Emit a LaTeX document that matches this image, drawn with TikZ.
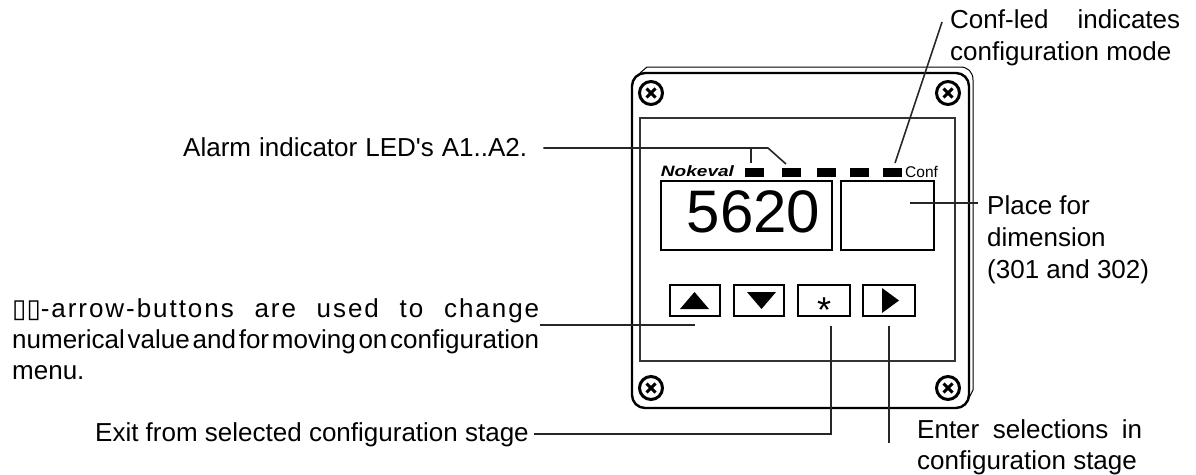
\documentclass[tikz,border=0pt]{standalone}
\usepackage{graphicx}
\usepackage{fontspec}
\setmainfont{Liberation Sans}[Ligatures=TeXOff]
\newfontfamily\symfont{DejaVu Sans}
\usetikzlibrary{positioning, calc}
\newcommand{\fitline}[3][0]{\makebox[#2][s]{\addfontfeature{LetterSpace=#1}\spaceskip=2.8pt plus 40pt minus 1pt #3}}
\tikzset{
    lab/.style={inner sep=0pt, anchor=base west, font=\fontsize{26}{26}\selectfont},
    leader/.style={line width=1.6pt, black!85},
    btnbox/.style={draw, line width=2pt, minimum width=50pt, minimum height=31pt, inner sep=0pt},
    dispbox/.style={draw, line width=2pt, inner sep=0pt},
    ledbox/.style={fill=black, minimum width=19pt, minimum height=9pt, inner sep=0pt},
    screw/.style={circle, draw, line width=3pt, minimum size=23pt, inner sep=0pt}
}
\begin{document}
\begin{tikzpicture}[x=1pt,y=-1pt]
\useasboundingbox (0,0) rectangle (1196,474);
% Housing
\draw[line width=1pt] (640,73) -- (647,67) -- (960,67) .. controls (968,67) and (973,72) .. (973,80) -- (973,390) -- (968,400);
\draw[line width=2.4pt, fill=white, rounded corners=13pt] (632,73) rectangle (969,408);
\draw[line width=1.2pt, black!80] (640,118) rectangle (955,361);
\foreach \n/\x/\y in {tl/651/93, tr/948/93, bl/651/388, br/948/388} {
    \node[screw] (screw\n) at (\x,\y) {};
    \draw[line width=3pt] ($(screw\n)+(-4.5,-4.5)$) -- ($(screw\n)+(4.5,4.5)$);
    \draw[line width=3pt] ($(screw\n)+(-4.5,4.5)$) -- ($(screw\n)+(4.5,-4.5)$);
}
% Front panel
\node[inner sep=0pt, font=\fontsize{15}{15}\selectfont\bfseries\itshape] (brand) at (697.5,171) {\scalebox{1.27}[1]{Nokeval}};
\foreach \i/\x in {1/754.5, 2/791.5, 3/826.5, 4/859.5, 5/892} {
    \node[ledbox] (led\i) at (\x,172) {};
}
\node[inner sep=0pt, anchor=base west, font=\fontsize{15.5}{15.5}\selectfont] (conf) at (905,177) {Conf};
\node[dispbox, minimum width=171pt, minimum height=69pt] (dispmain) at (746.5,215.5) {};
\node[inner sep=0pt, font=\fontsize{60}{60}\selectfont] (digits) at (753.5,212) {5620};
\node[dispbox, minimum width=93pt, minimum height=69pt] (dispunit) at (887.5,215.5) {};
% Buttons
\node[btnbox] (btnup) at (694.5,300.5) {};
\node[btnbox] (btndown) at (759,300.5) {};
\node[btnbox, minimum width=52pt] (btnstar) at (824,300.5) {};
\node[btnbox, minimum width=52pt] (btnright) at (889,300.5) {};
\fill (680,309) -- (694.5,292) -- (709,309) -- cycle;
\fill (747,292) -- (761.5,309) -- (776,292) -- cycle;
\fill (882,288) -- (899,300.5) -- (882,313) -- cycle;
\node[inner sep=0pt, anchor=base, font=\fontsize{36}{36}\selectfont] (star) at (824,322) {*};
% Labels
\node[lab] (alarmlab) at (183,156) {\fitline{344pt}{Alarm indicator LED's A1..A2.}};
\node[lab] (conflab) at (950,28) {\fitline{230pt}{Conf-led indicates}};
\node[lab] (conflabb) at (950,60) {configuration mode};
\node[lab] (placelab) at (987,214) {Place for};
\node[lab] (placelabb) at (987,246) {dimension};
\node[lab] (placelabc) at (987,278) {(301 and 302)};
\node[lab] (arrowlab) at (12,317) {\fitline[7.5]{527pt}{{\symfont ▯▯}-arrow-buttons are used to change}};
\node[lab] (arrowlabb) at (12,348) {\fitline{527pt}{numerical value and for moving on configuration}};
\node[lab] (arrowlabc) at (12,379) {menu.};
\node[lab] (exitlab) at (95,441) {Exit from selected configuration stage};
\node[lab] (enterlab) at (917,438) {\fitline{225pt}{Enter selections in}};
\node[lab] (enterlabb) at (917,469) {configuration stage};
% Leaders
\coordinate (alarmbend) at (768,148);
\coordinate (alarmfork) at (751,148);
\coordinate (alarmend) at (786,164);
\coordinate (alarmendb) at (751,163);
\coordinate (confend) at (895,163);
\coordinate (conftop) at (942,22);
\coordinate (placeend) at (910,203);
\coordinate (placetop) at (978,203);
\coordinate (arrowend) at (695,325);
\coordinate (exitbend) at (831,434);
\coordinate (exitend) at (831,326);
\coordinate (enterend) at (889,326);
\coordinate (enterstart) at (889,443);
\draw[leader] (alarmlab.east |- alarmbend) ++(16,0) -- (alarmbend) -- (alarmend);
\draw[leader] (alarmfork) -- (alarmendb);
\draw[leader] (confend) -- (conftop);
\draw[leader] (placeend) -- (placetop);
\draw[leader] (arrowlab.east |- arrowend) ++(1,0) -- (arrowend);
\draw[leader] (exitlab.east |- exitbend) ++(5,0) -- (exitbend) -- (exitend);
\draw[leader] (enterstart) -- (enterend);
\end{tikzpicture}
\end{document}
